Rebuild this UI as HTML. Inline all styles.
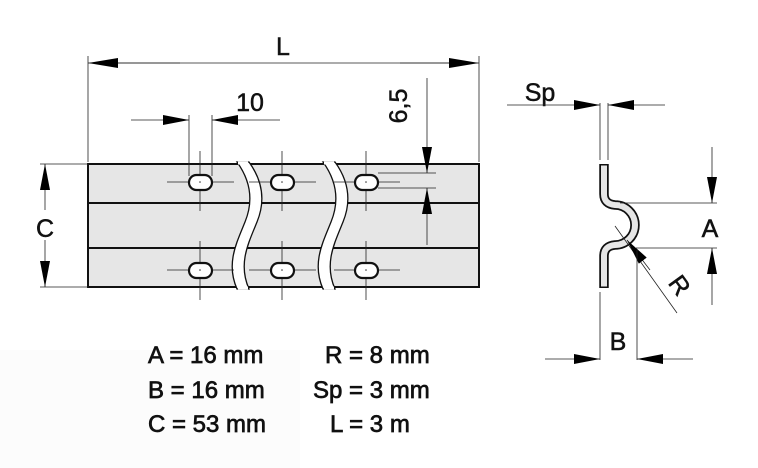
<!DOCTYPE html>
<html><head><meta charset="utf-8"><style>
html,body{margin:0;padding:0;background:#fff;}
svg{display:block;}
text{font-family:"Liberation Sans",Arial,sans-serif;fill:#111;}
</style></head><body>
<svg width="758" height="468" viewBox="0 0 758 468" xmlns="http://www.w3.org/2000/svg">
<defs>
<marker id="ah" viewBox="0 0 30 10" refX="30" refY="5" markerWidth="30" markerHeight="10" markerUnits="userSpaceOnUse" orient="auto"><path d="M0,0 L30,5 L0,10 z" fill="#000"/></marker>
<marker id="as" viewBox="0 0 26 10" refX="26" refY="5" markerWidth="26" markerHeight="10" markerUnits="userSpaceOnUse" orient="auto"><path d="M0,0 L26,5 L0,10 z" fill="#000"/></marker>
</defs>
<rect x="0" y="350" width="300" height="118" fill="#fcfcfc"/>
<rect x="88" y="164" width="391" height="123" fill="#e6e6e6" stroke="#111" stroke-width="2"/>
<line x1="88" y1="203" x2="479" y2="203" stroke="#111" stroke-width="2"/>
<line x1="88" y1="248" x2="479" y2="248" stroke="#111" stroke-width="2"/>
<g stroke="#111" stroke-width="1.3" fill="#fff">
<path d="M237,162 C250,180 254,200 245,222 C236,244 226,264 237,289 L249,289 C238,264 248,244 257,222 C266,200 262,180 249,162 Z"/>
<path d="M323,162 C336,180 340,200 331,222 C322,244 312,264 323,289 L335,289 C324,264 334,244 343,222 C352,200 348,180 335,162 Z"/>
</g>
<g stroke="#fff" stroke-width="3"><line x1="238" y1="163" x2="248" y2="163"/><line x1="238" y1="288" x2="248" y2="288"/><line x1="324" y1="163" x2="334" y2="163"/><line x1="324" y1="288" x2="334" y2="288"/></g>
<g stroke="#222" stroke-width="0.8">
<line x1="167" y1="182" x2="234" y2="182"/><line x1="200" y1="151" x2="200" y2="211"/>
<line x1="249" y1="182" x2="316" y2="182"/><line x1="282" y1="151" x2="282" y2="211"/>
<line x1="334" y1="182" x2="400" y2="182"/><line x1="366" y1="151" x2="366" y2="211"/>
<line x1="167" y1="270" x2="234" y2="270"/><line x1="200" y1="241" x2="200" y2="300"/>
<line x1="249" y1="270" x2="316" y2="270"/><line x1="282" y1="241" x2="282" y2="300"/>
<line x1="334" y1="270" x2="400" y2="270"/><line x1="366" y1="241" x2="366" y2="300"/>
</g>
<g fill="#fff" stroke="#111" stroke-width="2.2">
<rect x="189" y="175" width="23" height="15" rx="7.5"/><rect x="271" y="175" width="23" height="15" rx="7.5"/><rect x="355" y="175" width="23" height="15" rx="7.5"/>
<rect x="189" y="263" width="23" height="15" rx="7.5"/><rect x="271" y="263" width="23" height="15" rx="7.5"/><rect x="355" y="263" width="23" height="15" rx="7.5"/>
</g>
<g fill="#333"><circle cx="200" cy="182" r="0.8"/><circle cx="282" cy="182" r="0.8"/><circle cx="366" cy="182" r="0.8"/><circle cx="200" cy="270" r="0.8"/><circle cx="282" cy="270" r="0.8"/><circle cx="366" cy="270" r="0.8"/></g>
<g stroke="#222" stroke-width="0.8" fill="none">
<line x1="88" y1="56" x2="88" y2="162"/><line x1="479" y1="56" x2="479" y2="162"/>
<line x1="189" y1="115" x2="189" y2="176"/><line x1="212" y1="115" x2="212" y2="176"/>
<line x1="131" y1="120" x2="189" y2="120" marker-end="url(#as)"/>
<line x1="280" y1="120" x2="212" y2="120" marker-end="url(#as)"/>
<line x1="378" y1="173" x2="436" y2="173"/><line x1="378" y1="188" x2="436" y2="188"/>
<line x1="427" y1="78" x2="427" y2="173" marker-end="url(#as)"/>
<line x1="427" y1="245" x2="427" y2="188" marker-end="url(#as)"/>
<line x1="40" y1="164" x2="88" y2="164"/><line x1="40" y1="287" x2="88" y2="287"/>
<line x1="45" y1="210" x2="45" y2="164" marker-end="url(#as)"/>
<line x1="45" y1="240" x2="45" y2="287" marker-end="url(#as)"/>
</g>
<line x1="90" y1="63" x2="477" y2="63" stroke="#222" stroke-width="0.8"/>
<line x1="180" y1="63" x2="88" y2="63" stroke="#222" stroke-width="0.8" marker-end="url(#ah)"/>
<line x1="400" y1="63" x2="479" y2="63" stroke="#222" stroke-width="0.8" marker-end="url(#ah)"/>
<g font-size="25" stroke="#111" stroke-width="0.5">
<text x="283" y="55" text-anchor="middle">L</text>
<text x="250" y="111" text-anchor="middle">10</text>
<text x="416" y="115" text-anchor="middle" transform="rotate(-90 407 115)">6,5</text>
<text x="45" y="237" text-anchor="middle">C</text>
<text x="540" y="101" text-anchor="middle">Sp</text>
<text x="710" y="237" text-anchor="middle">A</text>
<text x="618" y="350" text-anchor="middle">B</text>
<text x="680" y="294" text-anchor="middle" transform="rotate(54 680 285)">R</text>
</g>
<path d="M604,164 L604,194 Q604,204 615,205 A20,20 0 0 1 615,245 Q604,246 604,256 L604,288" fill="none" stroke="#111" stroke-width="9.5"/>
<path d="M604,165.5 L604,194 Q604,204 615,205 A20,20 0 0 1 615,245 Q604,246 604,256 L604,286.5" fill="none" stroke="#e6e6e6" stroke-width="6"/>
<g stroke="#222" stroke-width="0.8" fill="none">
<line x1="600" y1="103" x2="600" y2="160"/><line x1="608" y1="103" x2="608" y2="160"/>
<line x1="507" y1="105" x2="600" y2="105" marker-end="url(#as)"/>
<line x1="665" y1="105" x2="608" y2="105" marker-end="url(#as)"/>
<line x1="620" y1="203" x2="717" y2="203"/><line x1="636" y1="248" x2="717" y2="248"/>
<line x1="712" y1="147" x2="712" y2="203" marker-end="url(#as)"/>
<line x1="712" y1="305" x2="712" y2="248" marker-end="url(#as)"/>
<line x1="615" y1="226" x2="677" y2="313"/>
<line x1="650" y1="270" x2="627" y2="240" marker-end="url(#as)"/>
<line x1="600" y1="292" x2="600" y2="360"/><line x1="637" y1="250" x2="637" y2="360"/>
<line x1="545" y1="359" x2="600" y2="359" marker-end="url(#as)"/>
<line x1="693" y1="359" x2="637" y2="359" marker-end="url(#as)"/>
</g>
<g font-size="24" stroke="#111" stroke-width="0.7">
<text x="148" y="363">A = 16 mm</text>
<text x="148" y="398">B = 16 mm</text>
<text x="148" y="432">C = 53 mm</text>
<text x="325" y="363">R = 8 mm</text>
<text x="313" y="398">Sp = 3 mm</text>
<text x="330" y="432">L = 3 m</text>
</g>
</svg>
</body></html>
